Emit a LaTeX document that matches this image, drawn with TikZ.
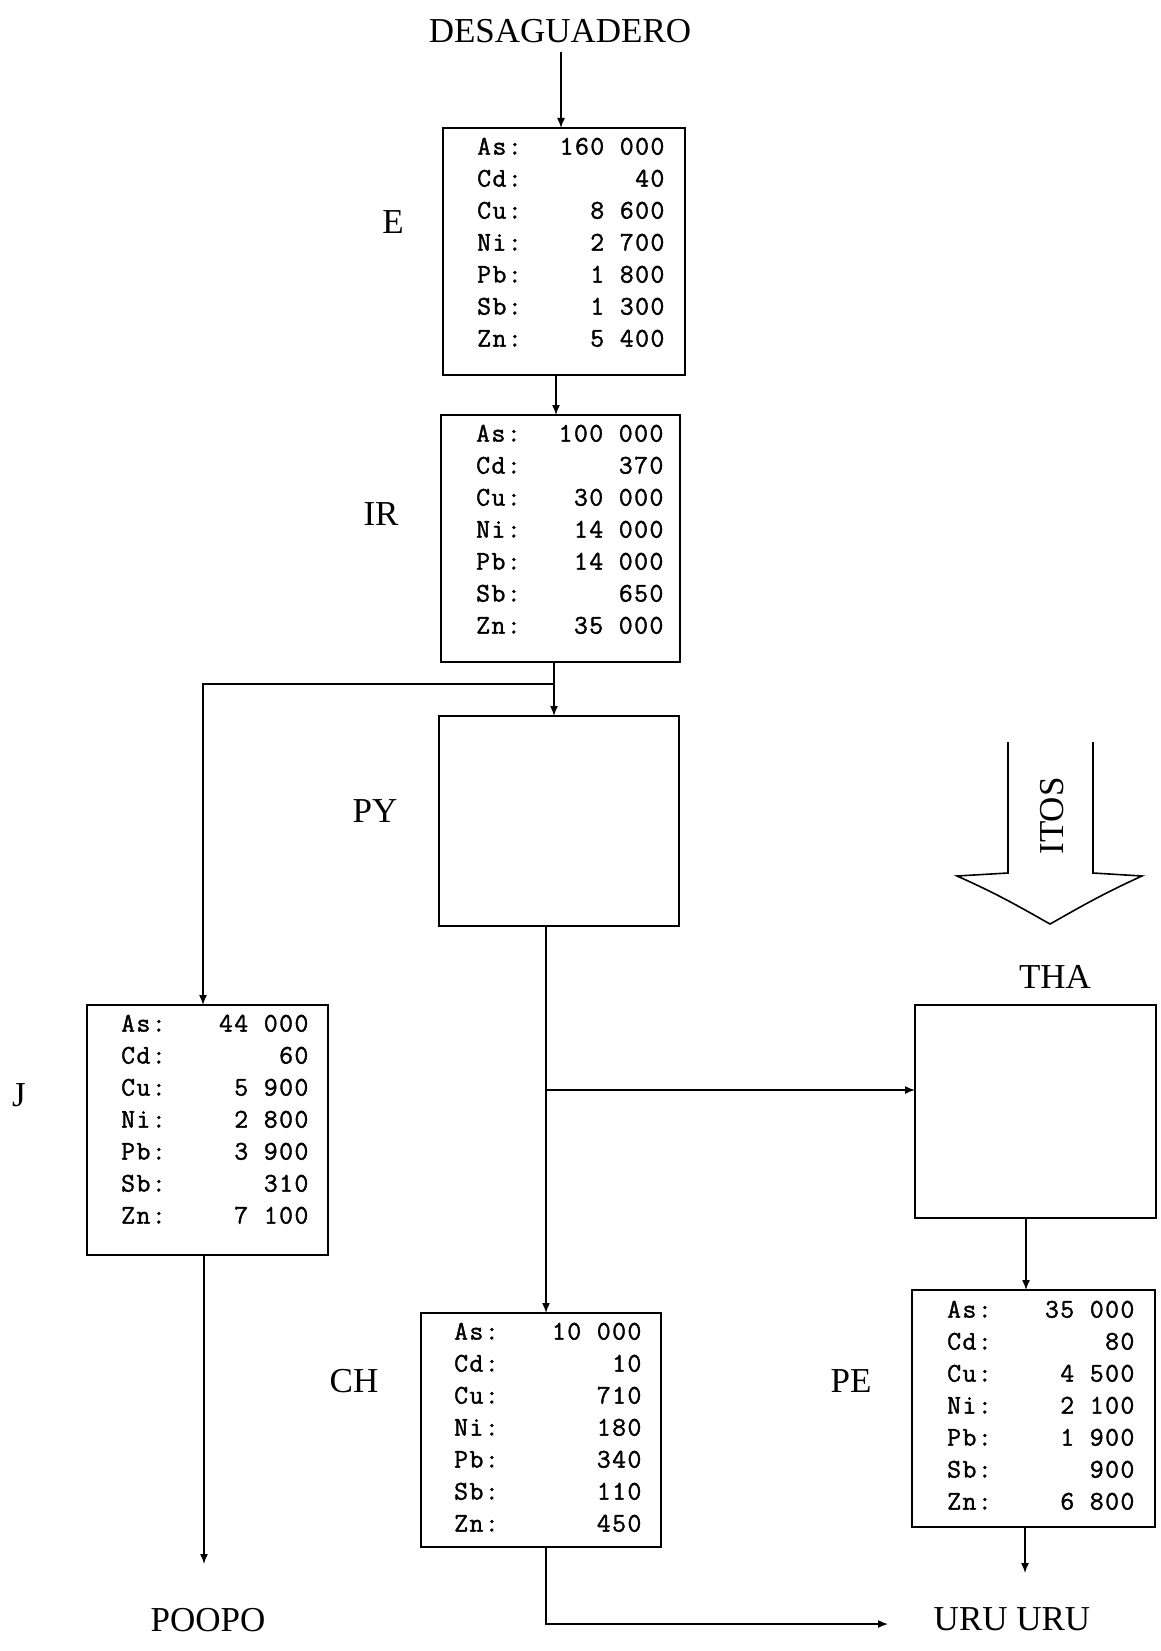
\documentclass[tikz,border=0pt]{standalone}
\usepackage{fontspec}
\setmainfont{Liberation Serif}
\newfontfamily\monof[LetterSpace=5.3,FakeBold=1.4]{Latin Modern Mono}
\usetikzlibrary{arrows.meta,calc}
\newcommand\ngap{\hspace*{15.6pt}}
\newcommand\elrow[2]{\strut\makebox[46.8pt][l]{#1}\makebox[140.4pt][r]{#2}}
\tikzset{
  box/.style={draw, line width=1.8pt, inner sep=0pt, outer sep=0pt, anchor=north west},
  data/.style={font={\monof\fontsize{27}{32}\selectfont}, align=left, inner sep=0pt, anchor=north west},
  lbl/.style={font=\fontsize{35}{40}\selectfont, inner sep=0pt},
  arr/.style={line width=1.5pt, -{Latex[length=10pt,width=8pt]}},
  ln/.style={line width=1.5pt}
}
\begin{document}
\begin{tikzpicture}[x=1pt,y=-1pt]
\useasboundingbox (0,0) rectangle (1160,1651);

% boxes
\node[box, minimum width=242, minimum height=247] (E)   at (443,128)  {};
\node[box, minimum width=239, minimum height=247] (IR)  at (441,415)  {};
\node[box, minimum width=240, minimum height=210] (PY)  at (439,716)  {};
\node[box, minimum width=241, minimum height=250] (J)   at (87,1005)  {};
\node[box, minimum width=240, minimum height=234] (CH)  at (421,1313) {};
\node[box, minimum width=241, minimum height=213] (THA) at (915,1005) {};
\node[box, minimum width=243, minimum height=237] (PE)  at (912,1290) {};

% data
\node[data] (Et) at ([xshift=34pt,yshift=-4pt]E.north west) {%
\elrow{As:}{160\ngap000}\\ \elrow{Cd:}{40}\\ \elrow{Cu:}{8\ngap600}\\ \elrow{Ni:}{2\ngap700}\\ \elrow{Pb:}{1\ngap800}\\ \elrow{Sb:}{1\ngap300}\\ \elrow{Zn:}{5\ngap400}};
\node[data] (IRt) at ([xshift=35pt,yshift=-4pt]IR.north west) {%
\elrow{As:}{100\ngap000}\\ \elrow{Cd:}{370}\\ \elrow{Cu:}{30\ngap000}\\ \elrow{Ni:}{14\ngap000}\\ \elrow{Pb:}{14\ngap000}\\ \elrow{Sb:}{650}\\ \elrow{Zn:}{35\ngap000}};
\node[data] (Jt) at ([xshift=34pt,yshift=-4pt]J.north west) {%
\elrow{As:}{44\ngap000}\\ \elrow{Cd:}{60}\\ \elrow{Cu:}{5\ngap900}\\ \elrow{Ni:}{2\ngap800}\\ \elrow{Pb:}{3\ngap900}\\ \elrow{Sb:}{310}\\ \elrow{Zn:}{7\ngap100}};
\node[data] (CHt) at ([xshift=33pt,yshift=-4pt]CH.north west) {%
\elrow{As:}{10\ngap000}\\ \elrow{Cd:}{10}\\ \elrow{Cu:}{710}\\ \elrow{Ni:}{180}\\ \elrow{Pb:}{340}\\ \elrow{Sb:}{110}\\ \elrow{Zn:}{450}};
\node[data] (PEt) at ([xshift=35pt,yshift=-5pt]PE.north west) {%
\elrow{As:}{35\ngap000}\\ \elrow{Cd:}{80}\\ \elrow{Cu:}{4\ngap500}\\ \elrow{Ni:}{2\ngap100}\\ \elrow{Pb:}{1\ngap900}\\ \elrow{Sb:}{900}\\ \elrow{Zn:}{6\ngap800}};

% labels
\node[lbl] (desag) at (560,31) {DESAGUADERO};
\node[lbl] (labE) at (393,222) {E};
\node[lbl] (labIR) at (381,514) {IR};
\node[lbl] (labPY) at (375,811) {PY};
\node[lbl] (labJ) at (19,1095) {J};
\node[lbl] (labCH) at (354,1381) {CH};
\node[lbl] (labPE) at (851,1381) {PE};
\node[lbl] (labTHA) at (1055,977) {THA};
\node[lbl] (poopo) at (208,1620) {POOPO};
\node[lbl] (uru) at (1012,1619) {URU URU};
\node[lbl, rotate=90] (itos) at (1052,816) {ITOS};

% ITOS big arrow
\draw[line width=1.6pt, line join=miter] (1008,742) -- (1008,873) -- (957,876)
  .. controls (1000,895) and (1025,910) .. (1050,924)
  .. controls (1075,910) and (1100,895) .. (1142,876) -- (1093,873) -- (1093,742);

% coordinates
\coordinate (xDE) at (561,0);
\coordinate (xEI) at (556,0);
\coordinate (xIP) at (554,0);
\coordinate (br1) at (554,684);
\coordinate (xJ) at (203,0);
\coordinate (xPC) at (546,0);
\coordinate (br2) at (546,1090);
\coordinate (xTP) at (1026,0);
\coordinate (jend) at (204,1564);
\coordinate (chturn) at (546,1624);
\coordinate (chend) at (888,1624);
\coordinate (peend) at (1025,1573);

% connectors
\draw[arr] ([yshift=-9pt]desag.south -| xDE) -- (E.north -| xDE);
\draw[arr] (E.south -| xEI) -- (IR.north -| xEI);
\draw[arr] (IR.south -| xIP) -- (PY.north -| xIP);
\draw[arr] (br1) -| (J.north -| xJ);
\draw[arr] (PY.south -| xPC) -- (CH.north -| xPC);
\draw[arr] (br2) -- (br2 -| THA.west);
\draw[arr] (THA.south -| xTP) -- (PE.north -| xTP);
\draw[arr] (J.south -| jend) -- (jend);
\draw[arr] (CH.south -| chturn) -- (chturn) -- (chend);
\draw[arr] (PE.south -| peend) -- (peend);
\end{tikzpicture}
\end{document}
